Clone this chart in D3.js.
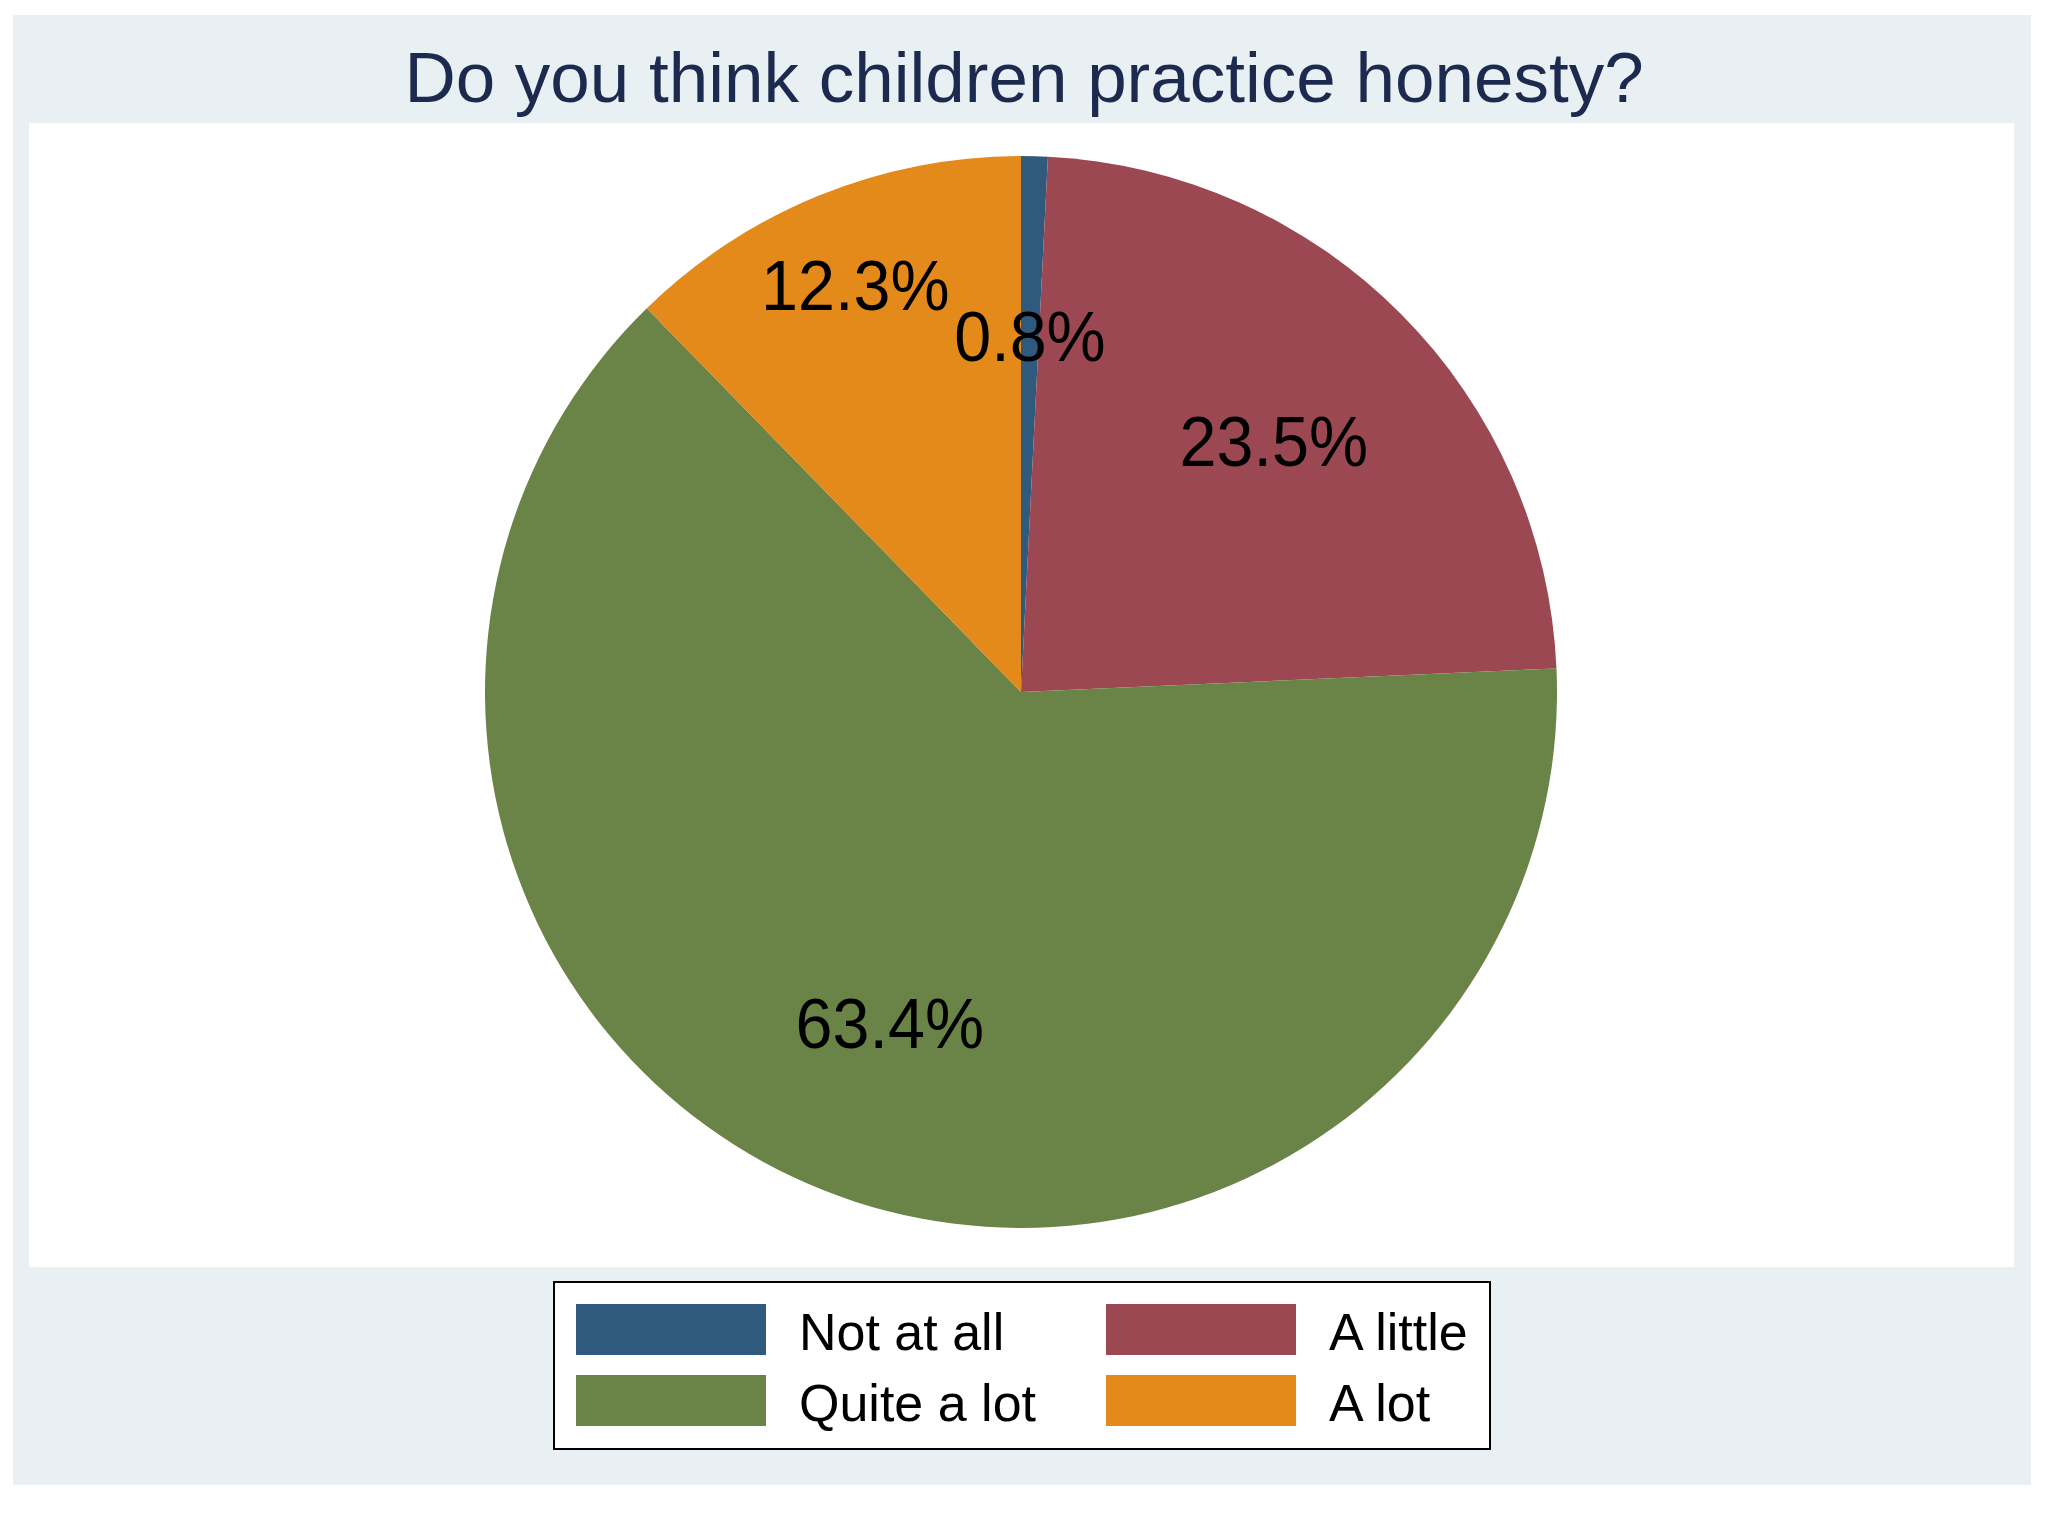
<!DOCTYPE html>
<html>
<head>
<meta charset="utf-8">
<script src="https://cdn.jsdelivr.net/npm/d3@7"></script>
<style>
  body { margin: 0; background: #fff; }
  text { font-family: "Liberation Sans", Arial, sans-serif; }
</style>
</head>
<body>
<div id="container"></div>
<script>
/* DATA */
var title = "Do you think children practice honesty?";
var categories = ["Not at all", "A little", "Quite a lot", "A lot"];
var percents = [0.8, 23.5, 63.4, 12.3];
var colors = ["#2f5a7d", "#9b4852", "#6a8346", "#e48a1b"];

/* LAYOUT */
var width = 2048,
    height = 1536,
    cx = 1021,
    cy = 692,
    radius = 536;

var svg = d3.select('#container').append('svg')
    .attr('width', width)
    .attr('height', height);

// outer graph region
svg.append('rect')
    .attr('x', 13).attr('y', 15)
    .attr('width', 2018).attr('height', 1470)
    .style('fill', '#e9f0f3');

// plot region
svg.append('rect')
    .attr('x', 29).attr('y', 123)
    .attr('width', 1985).attr('height', 1144)
    .style('fill', '#ffffff');

svg.append('text')
    .attr('x', 1024).attr('y', 102)
    .attr('text-anchor', 'middle')
    .style('font-size', '71px')
    .style('fill', '#1d2a4f')
    .text(title);

/* PIE */
var pie = d3.pie()
    .sort(null)
    .value(function(d) { return d; });

var arcs = pie(percents);

var arc = d3.arc()
    .innerRadius(0)
    .outerRadius(radius);

var color = d3.scaleOrdinal()
    .domain(d3.range(categories.length))
    .range(colors);

var g = svg.append('g')
    .attr('transform', 'translate(' + cx + ',' + cy + ')');

g.selectAll('path').data(arcs)
  .enter().append('path')
    .attr('d', arc)
    .style('fill', function(d, i) { return color(i); })
    .style('stroke', 'none');

// labels sit at ~2/3 radius; the small "A lot" label is pushed out a bit
function labelPos(d, i) {
  var f = categories[i] === 'A lot' ? 0.82 : 0.665;
  var a = (d.startAngle + d.endAngle) / 2;
  return [Math.sin(a) * radius * f, -Math.cos(a) * radius * f];
}

var fs = 70;
g.selectAll('text.plabel').data(arcs)
  .enter().append('text')
    .attr('class', 'plabel')
    .attr('transform', function(d, i) {
      var p = labelPos(d, i);
      return 'translate(' + p[0] + ',' + (p[1] + fs * 0.358) + ') scale(0.95,1)';
    })
    .attr('text-anchor', 'middle')
    .style('font-size', fs + 'px')
    .style('fill', '#000')
    .text(function(d) { return d.data.toFixed(1) + '%'; });

/* LEGEND */
var legend = svg.append('g');

legend.append('rect')
    .attr('x', 554).attr('y', 1282)
    .attr('width', 936).attr('height', 167)
    .style('fill', '#fff')
    .style('stroke', '#000')
    .style('stroke-width', 2);

var colX = d3.scaleOrdinal().domain([0, 1]).range([576, 1106]);
var rowY = d3.scaleOrdinal().domain([0, 1]).range([1304, 1375]);

var items = legend.selectAll('g.item').data(categories)
  .enter().append('g')
    .attr('class', 'item')
    .attr('transform', function(d, i) {
      return 'translate(' + colX(i % 2) + ',' + rowY(Math.floor(i / 2)) + ')';
    });

items.append('rect')
    .attr('width', 190)
    .attr('height', 51)
    .style('fill', function(d, i) { return color(i); });

items.append('text')
    .attr('x', 223)
    .attr('y', 46)
    .attr('transform', 'scale(1,1)')
    .style('font-size', '52px')
    .style('fill', '#000')
    .text(function(d) { return d; });
</script>
</body>
</html>
